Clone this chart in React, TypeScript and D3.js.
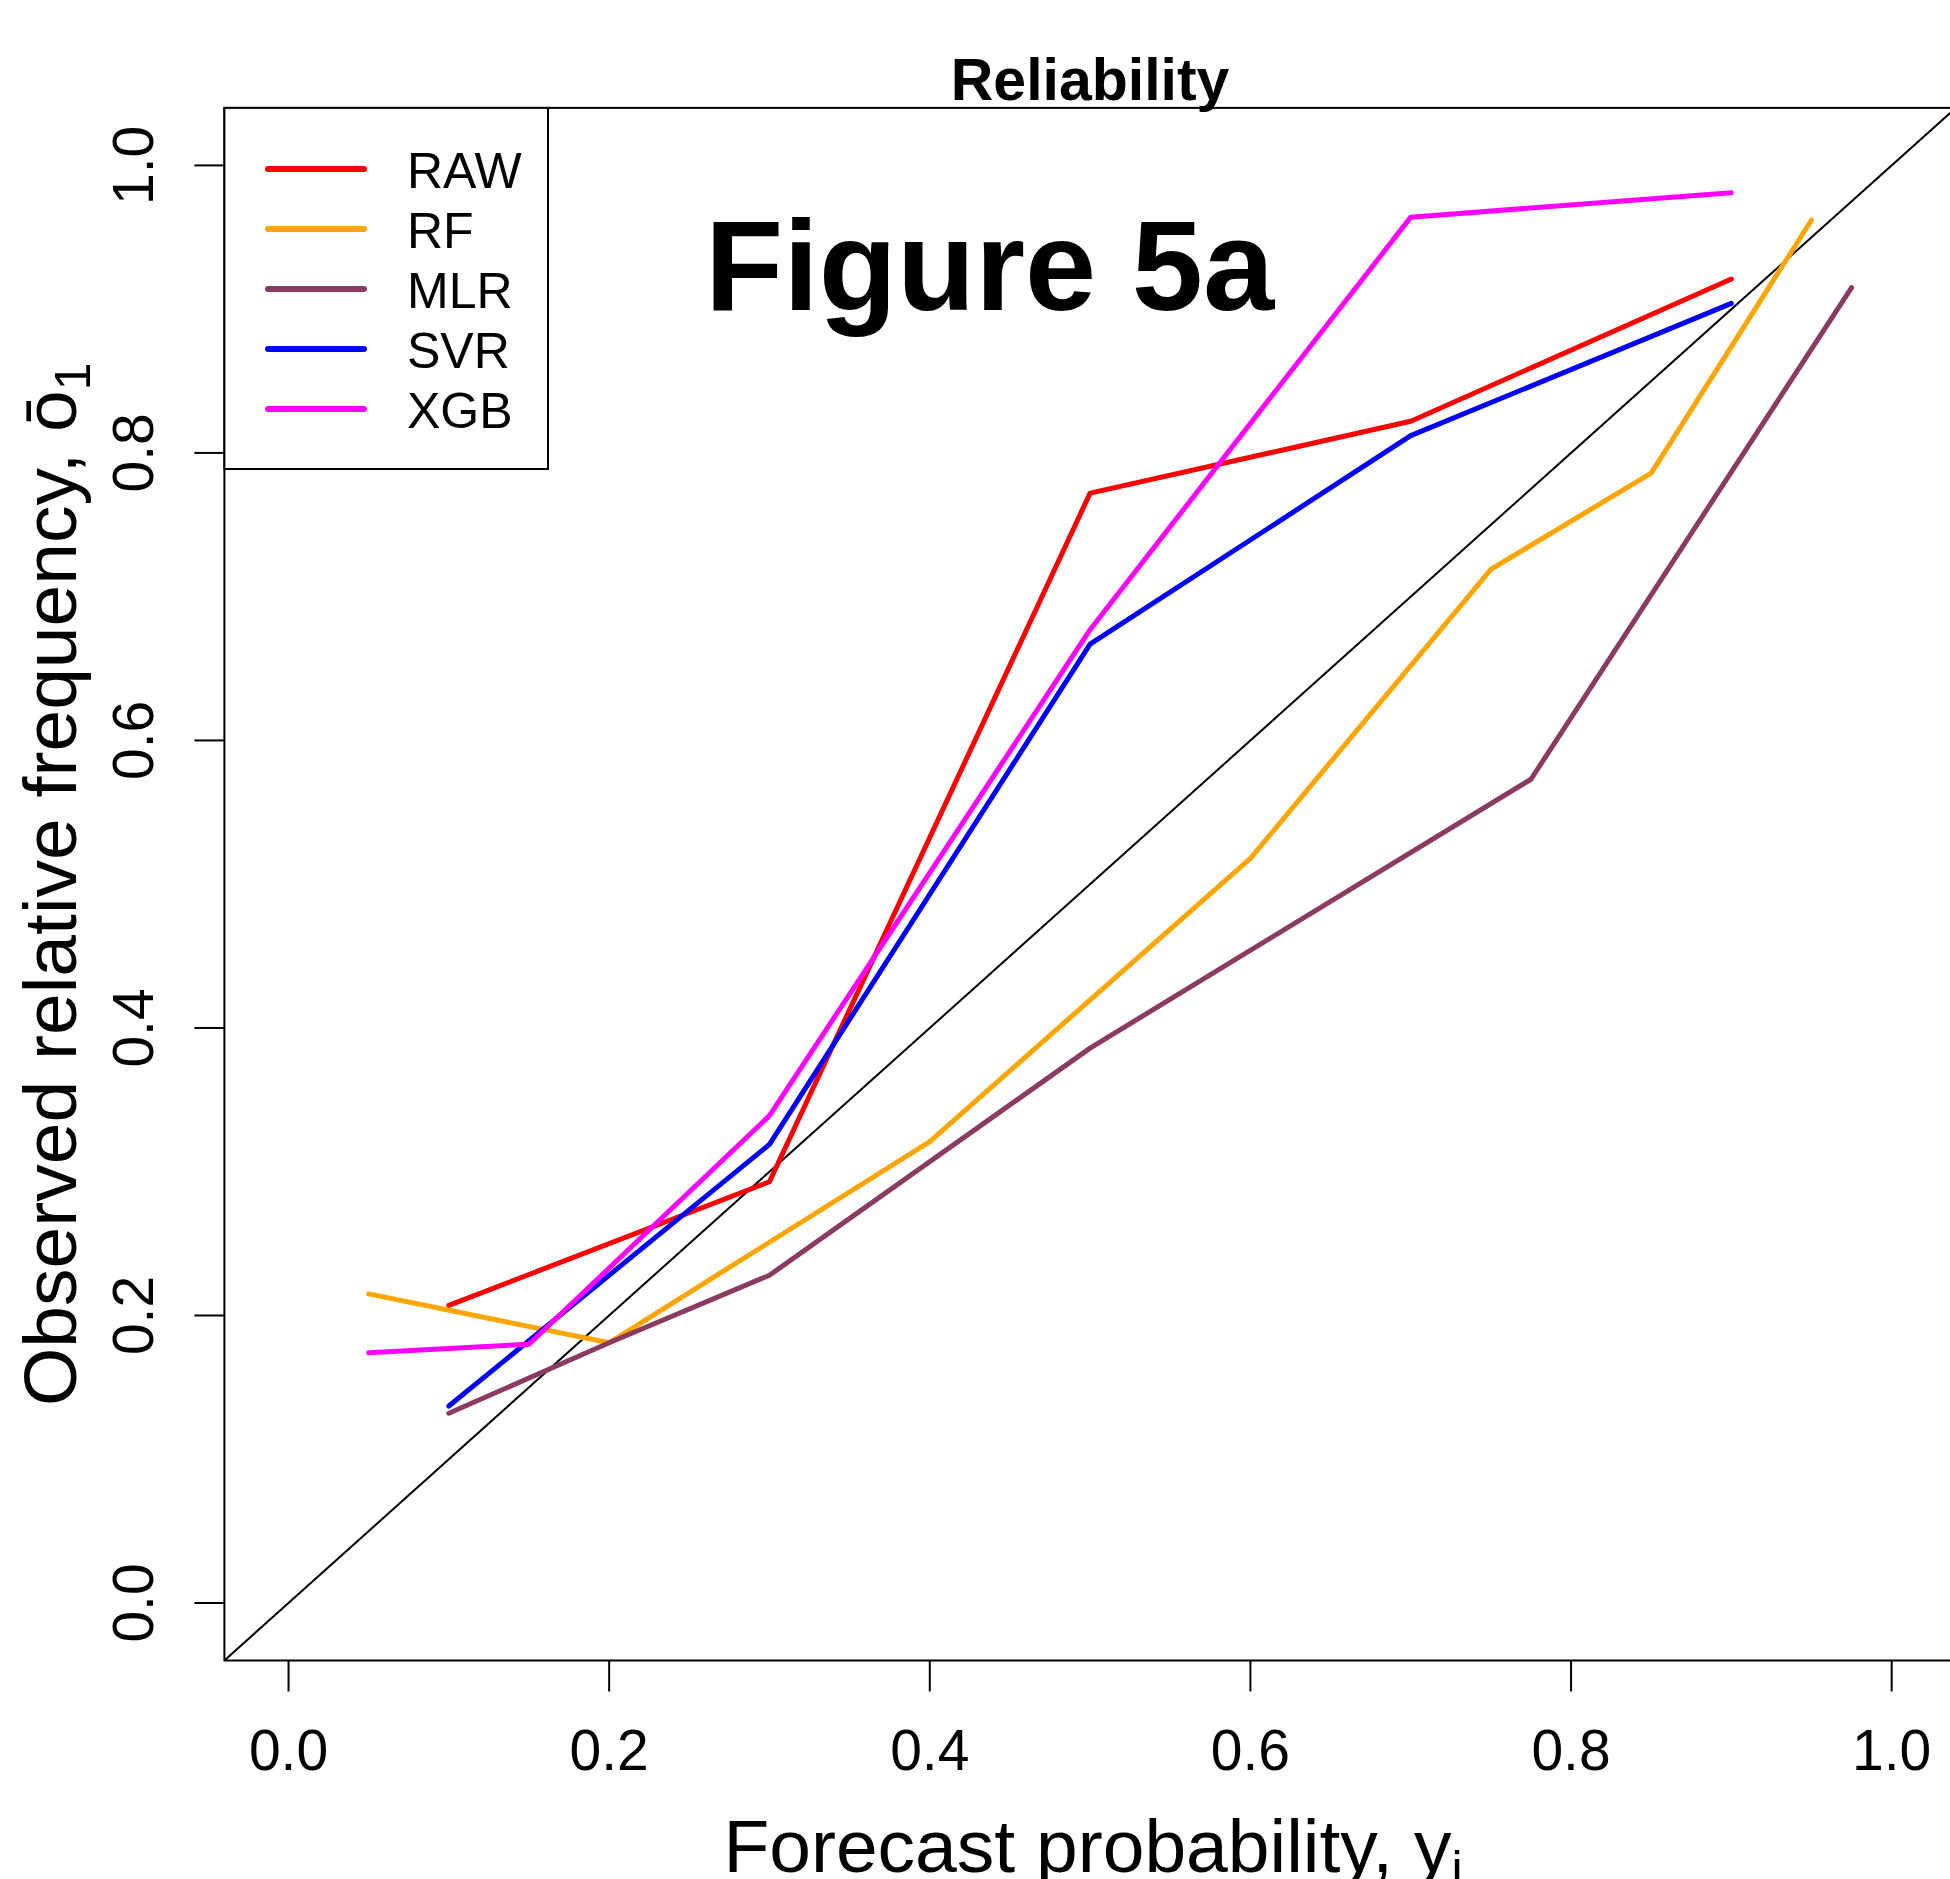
import React, { useEffect } from "react";
import * as d3 from "d3";

const width = 1950,
  height = 1879;

// forecast probability bins (x) and observed frequency (y) per model
const rawX = [0.1, 0.3, 0.5, 0.7, 0.9];
const rawY = [0.207, 0.293, 0.772, 0.822, 0.921];
const rfX = [0.05, 0.2, 0.4, 0.6, 0.75, 0.85, 0.95];
const rfY = [0.215, 0.181, 0.321, 0.518, 0.719, 0.786, 0.962];
const mlrX = [0.1, 0.2, 0.3, 0.5, 0.775, 0.975];
const mlrY = [0.132, 0.181, 0.228, 0.386, 0.573, 0.915];
const svrX = [0.1, 0.3, 0.5, 0.7, 0.9];
const svrY = [0.137, 0.319, 0.667, 0.812, 0.904];
const xgbX = [0.05, 0.15, 0.3, 0.5, 0.7, 0.9];
const xgbY = [0.174, 0.18, 0.339, 0.677, 0.964, 0.981];

const seriesNames = ["RAW", "RF", "MLR", "SVR", "XGB"];
const seriesColors = ["#ff0000", "#ffa500", "#8b3a62", "#0000ff", "#ff00ff"];
const tickValues = [0, 0.2, 0.4, 0.6, 0.8, 1.0];

const font = "'Liberation Sans', Arial, sans-serif";

// plot region
const left = 224.4,
  right = 1955.8,
  top = 107.9,
  bottom = 1660.5;

function App() {
  useEffect(() => {
    document.body.style.margin = "0";
  }, []);

  const x = d3.scaleLinear().domain([-0.04, 1.04]).range([left, right]);
  const y = d3.scaleLinear().domain([-0.04, 1.04]).range([bottom, top]);

  const series = [
    [rawX, rawY],
    [rfX, rfY],
    [mlrX, mlrY],
    [svrX, svrY],
    [xgbX, xgbY],
  ].map(([xs, ys], i) => ({
    name: seriesNames[i],
    color: seriesColors[i],
    points: xs.map((v, j) => [v, ys[j]] as [number, number]),
  }));

  const line = d3
    .line<[number, number]>()
    .x(d => x(d[0]))
    .y(d => y(d[1]));

  const legendRow = 60;

  return (
    <svg
      width={width}
      height={height}
      style={{ display: "block", position: "absolute", left: 0, top: 0, background: "#fff" }}
      fontFamily={font}
    >
      <defs>
        <clipPath id="plot">
          <rect x={left} y={top} width={right - left} height={bottom - top} />
        </clipPath>
      </defs>
      <rect x={0} y={0} width={width} height={height} fill="#fff" />

      {/* 1:1 diagonal */}
      <g clipPath="url(#plot)">
        <line x1={x(-0.04)} y1={y(-0.04)} x2={x(1.04)} y2={y(1.04)} stroke="#000" strokeWidth={2} />
        {series.map(s => (
          <path
            key={s.name}
            d={line(s.points) || ""}
            fill="none"
            stroke={s.color}
            strokeWidth={5}
            strokeLinejoin="round"
            strokeLinecap="round"
          />
        ))}
      </g>

      {/* plot box */}
      <rect x={left} y={top} width={right - left} height={bottom - top} fill="none" stroke="#000" strokeWidth={2} />

      {/* x axis */}
      {tickValues.map(t => (
        <g key={"x" + t}>
          <line x1={x(t)} x2={x(t)} y1={bottom} y2={bottom + 31} stroke="#000" strokeWidth={2} />
          <text x={x(t)} y={1770} fontSize={57} textAnchor="middle">
            {t.toFixed(1)}
          </text>
        </g>
      ))}

      {/* y axis */}
      {tickValues.map(t => (
        <g key={"y" + t}>
          <line x1={left - 30} x2={left} y1={y(t)} y2={y(t)} stroke="#000" strokeWidth={2} />
          <text transform={`translate(153,${y(t)}) rotate(-90)`} fontSize={57} textAnchor="middle">
            {t.toFixed(1)}
          </text>
        </g>
      ))}

      <text x={1093} y={1872} fontSize={75} textAnchor="middle">
        Forecast probability, y<tspan fontSize={50} dy={14}>i</tspan>
      </text>

      <text transform={`translate(76,${(top + bottom) / 2}) rotate(-90)`} fontSize={75} textAnchor="middle">
        Observed relative frequency, ō<tspan fontSize={50} dy={14}>1</tspan>
      </text>

      <text x={(left + right) / 2} y={100} fontSize={59} fontWeight="bold" textAnchor="middle">
        Reliability
      </text>

      <text x={705} y={310} fontSize={128} fontWeight="bold">
        Figure 5a
      </text>

      {/* legend */}
      <rect x={left} y={top} width={548 - left} height={469 - top} fill="#fff" stroke="#000" strokeWidth={2} />
      {series.map((s, i) => (
        <g key={"lg" + s.name} transform={`translate(0,${169 + i * legendRow})`}>
          <line x1={268} x2={364} y1={0} y2={0} stroke={s.color} strokeWidth={6} strokeLinecap="round" />
          <text x={407} y={19} fontSize={50}>
            {s.name}
          </text>
        </g>
      ))}
    </svg>
  );
}

export default App;
